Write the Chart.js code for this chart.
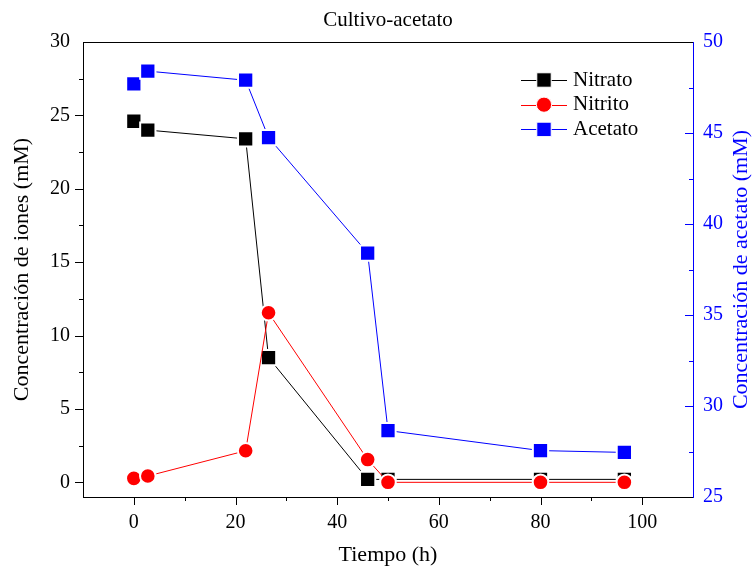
<!DOCTYPE html>
<html>
<head>
<meta charset="utf-8">
<script src="https://cdn.jsdelivr.net/npm/chart.js@4.4.1/dist/chart.umd.min.js"></script>
<style>
  html, body { margin: 0; padding: 0; background: #fff; }
  canvas { display: block; }
</style>
</head>
<body>
<canvas id="chart-canvas" width="753" height="572"></canvas>
<script>
//////////////////////////////////////////////////
/////       Data                    //////////////
//////////////////////////////////////////////////

var tiempo = [0, 2.75, 22, 26.5, 46, 50, 80, 96.5];
var nitrato = [24.6, 24.0, 23.4, 8.5, 0.2, 0.2, 0.2, 0.2];
var nitrito = [0.27, 0.43, 2.15, 11.55, 1.55, 0, 0, 0];
var acetato = [47.7, 48.4, 47.9, 44.75, 38.4, 28.65, 27.55, 27.45];

var xTicks = [0, 20, 40, 60, 80, 100];
var ionesTicks = [0, 5, 10, 15, 20, 25, 30];
var acetatoTicks = [25, 30, 35, 40, 45, 50];

var FONT = "'Liberation Serif', 'Times New Roman', serif";
var BLUE = '#0000ff';

function pts(ys) {
    return tiempo.map(function (t, i) { return { x: t, y: ys[i] }; });
}

//////////////////////////////////////////////////
/////       Title, ticks, legend    //////////////
//////////////////////////////////////////////////

// major + minor tick marks; base is the axis line, dir the side they point to
function tickMarks(ctx, scale, step, majorEvery, vertical, base, dir, color) {
    ctx.strokeStyle = color;
    ctx.lineWidth = 1;
    base = Math.round(base);
    for (var v = Math.ceil(scale.min / step) * step; v <= scale.max + 1e-9; v += step) {
        if (v <= scale.min + 1e-9 || v >= scale.max - 1e-9) continue;
        var isMajor = Math.abs(v / majorEvery - Math.round(v / majorEvery)) < 1e-6;
        var len = isMajor ? 8 : 4;
        var p = Math.round(scale.getPixelForValue(v)) + 0.5;
        ctx.beginPath();
        if (vertical) {
            ctx.moveTo(base, p);
            ctx.lineTo(base + dir * len, p);
        } else {
            ctx.moveTo(p, base);
            ctx.lineTo(p, base + dir * len);
        }
        ctx.stroke();
    }
}

var extras = {
    id: 'extras',
    afterDraw: function (chart) {
        var ctx = chart.ctx;
        var a = chart.chartArea;
        var s = chart.scales;
        ctx.save();

        // frame on top
        ctx.strokeStyle = '#000';
        ctx.lineWidth = 1;
        ctx.beginPath();
        ctx.moveTo(a.left, Math.round(a.top) + 0.5);
        ctx.lineTo(a.right, Math.round(a.top) + 0.5);
        ctx.stroke();

        tickMarks(ctx, s.y, 2.5, 5, true, a.left, -1, '#000');
        tickMarks(ctx, s.y2, 2.5, 5, true, a.right, -1, BLUE);
        tickMarks(ctx, s.x, 10, 20, false, a.bottom, 1, '#000');

        // chart title
        ctx.fillStyle = '#000';
        ctx.font = '21px ' + FONT;
        ctx.textAlign = 'center';
        ctx.textBaseline = 'middle';
        ctx.fillText('Cultivo-acetato', (a.left + a.right) / 2, 20);

        // right axis title, reading bottom to top
        ctx.save();
        ctx.translate(741, (a.top + a.bottom) / 2);
        ctx.rotate(-Math.PI / 2);
        ctx.fillStyle = BLUE;
        ctx.font = '22px ' + FONT;
        ctx.fillText('Concentración de acetato (mM)', 0, 0);
        ctx.restore();

        // legend: line - marker - line, then label
        var lx = a.right - 172, ly = a.top + 38;
        chart.data.datasets.forEach(function (ds, i) {
            var y = ly + i * 24.7;
            ctx.strokeStyle = ds.borderColor;
            ctx.lineWidth = 1;
            ctx.beginPath();
            ctx.moveTo(lx, Math.round(y) + 0.5);
            ctx.lineTo(lx + 46, Math.round(y) + 0.5);
            ctx.stroke();
            ctx.fillStyle = ds.pointBackgroundColor;
            ctx.strokeStyle = '#fff';
            Chart.helpers.drawPoint(ctx, {
                pointStyle: ds.pointStyle,
                radius: ds.pointStyle === 'rect' ? 10.2 : 7.6,
                rotation: 0,
                borderWidth: 2
            }, lx + 23, y);
            ctx.fillStyle = '#000';
            ctx.font = '21px ' + FONT;
            ctx.textAlign = 'left';
            ctx.fillText(ds.label, lx + 52, y);
        });

        ctx.restore();
    }
};

//////////////////////////////////////////////////
/////       Chart                   //////////////
//////////////////////////////////////////////////

var ctx = document.getElementById('chart-canvas').getContext('2d');
var myChart = new Chart(ctx, {
    type: 'line',
    data: {
        datasets: [
            {
                label: 'Nitrato',
                data: pts(nitrato),
                yAxisID: 'y',
                order: 1,
                borderColor: '#000',
                backgroundColor: '#000',
                pointBackgroundColor: '#000',
                pointBorderColor: '#fff',
                pointBorderWidth: 2,
                pointStyle: 'rect',
                pointRadius: 10.8,
                borderWidth: 1,
                tension: 0
            },
            {
                label: 'Nitrito',
                data: pts(nitrito),
                yAxisID: 'y',
                order: 0,
                borderColor: '#ff0000',
                backgroundColor: '#ff0000',
                pointBackgroundColor: '#ff0000',
                pointBorderColor: '#fff',
                pointBorderWidth: 2,
                pointStyle: 'circle',
                pointRadius: 7.8,
                borderWidth: 1,
                tension: 0
            },
            {
                label: 'Acetato',
                data: pts(acetato),
                yAxisID: 'y2',
                order: 2,
                borderColor: BLUE,
                backgroundColor: BLUE,
                pointBackgroundColor: BLUE,
                pointBorderColor: '#fff',
                pointBorderWidth: 2,
                pointStyle: 'rect',
                pointRadius: 10.8,
                borderWidth: 1,
                tension: 0
            }
        ]
    },
    options: {
        responsive: false,
        animation: false,
        layout: { padding: { top: 42, left: 0, right: 0, bottom: 0 } },
        plugins: {
            legend: { display: false },
            title: { display: false },
            tooltip: { enabled: false }
        },
        scales: {
            x: {
                type: 'linear',
                position: 'bottom',
                min: -10,
                max: 110,
                afterBuildTicks: function (scale) {
                    scale.ticks = xTicks.map(function (v) { return { value: v }; });
                },
                afterFit: function (scale) { scale.height = 75; },
                grid: { drawOnChartArea: false, drawTicks: false },
                border: { color: '#000', width: 1 },
                ticks: { color: '#000', font: { family: FONT, size: 20 }, padding: 14, maxRotation: 0 },
                title: {
                    display: true,
                    text: 'Tiempo (h)',
                    color: '#000',
                    font: { family: FONT, size: 22 },
                    padding: { top: 0, bottom: 4 }
                }
            },
            y: {
                type: 'linear',
                position: 'left',
                min: -1,
                max: 30,
                afterBuildTicks: function (scale) {
                    scale.ticks = ionesTicks.map(function (v) { return { value: v }; });
                },
                afterFit: function (scale) { scale.width = 83; },
                grid: { drawOnChartArea: false, drawTicks: false },
                border: { color: '#000', width: 1 },
                ticks: { color: '#000', font: { family: FONT, size: 20 }, padding: 13 },
                title: {
                    display: true,
                    text: 'Concentración de iones (mM)',
                    color: '#000',
                    font: { family: FONT, size: 22 },
                    padding: { top: 9, bottom: 0 }
                }
            },
            y2: {
                type: 'linear',
                position: 'right',
                min: 25,
                max: 50,
                afterBuildTicks: function (scale) {
                    scale.ticks = acetatoTicks.map(function (v) { return { value: v }; });
                },
                afterFit: function (scale) { scale.width = 60; },
                grid: { drawOnChartArea: false, drawTicks: false },
                border: { color: BLUE, width: 1 },
                ticks: { color: BLUE, font: { family: FONT, size: 20 }, padding: 10 }
            }
        }
    },
    plugins: [extras]
});
</script>
</body>
</html>
